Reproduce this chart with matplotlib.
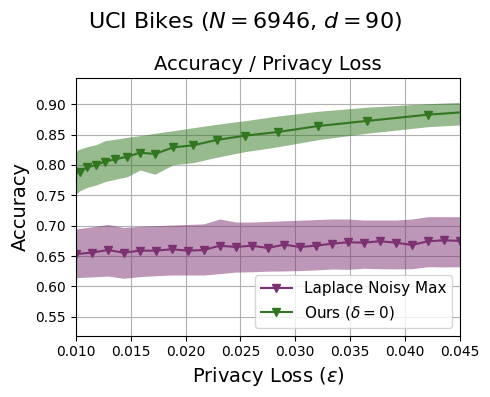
import numpy as np
import matplotlib
matplotlib.use("Agg")
import matplotlib.pyplot as plt

# Laplace Noisy Max
eps_lap = np.linspace(0.010, 0.045, 25)
acc_lap = [0.6533, 0.6555, 0.6599, 0.6555, 0.6588, 0.6588, 0.6611, 0.6588, 0.6599,
           0.6670, 0.6649, 0.6670, 0.6632, 0.6687, 0.6649, 0.6670, 0.6703, 0.6726,
           0.6720, 0.6743, 0.6720, 0.6682, 0.6743, 0.6759, 0.6748]
lap_upper = [0.6945, 0.698, 0.702, 0.697, 0.699, 0.700, 0.701, 0.702, 0.703,
             0.711, 0.706, 0.706, 0.707, 0.708, 0.709, 0.710, 0.711, 0.711,
             0.7093, 0.7093, 0.7093, 0.711, 0.7148, 0.7148, 0.7148]
lap_lower = [0.6143, 0.6155, 0.617, 0.6133, 0.616, 0.6175, 0.6187, 0.6187, 0.6187,
             0.621, 0.6235, 0.624, 0.625, 0.6253, 0.626, 0.627, 0.6286, 0.628,
             0.6298, 0.629, 0.6288, 0.629, 0.6324, 0.632, 0.6324]

# Ours (delta = 0)
eps_ours = [0.0098, 0.01039, 0.01106, 0.01185, 0.01267, 0.01358, 0.0147, 0.01586, 0.01722,
            0.01889, 0.02071, 0.02284, 0.02542, 0.02845, 0.03209, 0.0365, 0.04211, 0.0489]
acc_ours = [0.785, 0.789, 0.7962, 0.800, 0.8054, 0.8094, 0.8137, 0.8203, 0.8181,
            0.8291, 0.8324, 0.8412, 0.8483, 0.8544, 0.8642, 0.8725, 0.8829, 0.8914]
ours_upper = [0.821, 0.8263, 0.8301, 0.8334, 0.840, 0.8423, 0.8456, 0.8483, 0.8522,
              0.8565, 0.8614, 0.867, 0.873, 0.8807, 0.8885, 0.8951, 0.901, 0.906]
ours_lower = [0.749, 0.7576, 0.7632, 0.767, 0.7725, 0.7764, 0.7807, 0.7917, 0.7847,
              0.8005, 0.8038, 0.8127, 0.8219, 0.8301, 0.8417, 0.8522, 0.8631, 0.8697]

c_lap = '#7d3172'
c_ours = '#31771f'

fig = plt.figure(figsize=(4.9, 3.97), dpi=100)
ax = fig.add_axes([0.1545, 0.1544, 0.9388 - 0.1545, 0.8028 - 0.1544])
ax.set_axisbelow(True)
ax.grid(True, color='#b0b0b0', linewidth=0.8)

ax.fill_between(eps_lap, lap_lower, lap_upper, color=c_lap, alpha=0.5, linewidth=0)
ax.plot(eps_lap, acc_lap, color=c_lap, marker='v', markersize=5.5, linewidth=1.5,
        label='Laplace Noisy Max')
ax.fill_between(eps_ours, ours_lower, ours_upper, color=c_ours, alpha=0.5, linewidth=0)
ax.plot(eps_ours, acc_ours, color=c_ours, marker='v', markersize=5.5, linewidth=1.5,
        label=r'Ours ($\delta = 0$)')

ax.set_xlim(0.010, 0.045)
ax.set_ylim(0.5187, 0.9428)
ax.set_xticks(np.arange(0.010, 0.0451, 0.005))
ax.set_yticks(np.arange(0.55, 0.901, 0.05))
ax.tick_params(labelsize=10)
ax.set_xlabel(r'Privacy Loss ($\epsilon$)', fontsize=14)
ax.set_ylabel('Accuracy', fontsize=14)
ax.set_title('Accuracy / Privacy Loss', fontsize=14)
ax.legend(loc='lower right', fontsize=11)
fig.suptitle(r'UCI Bikes ($N = 6946$, $d = 90$)', fontsize=16, y=0.975)

fig.savefig('out.png', dpi=100)
